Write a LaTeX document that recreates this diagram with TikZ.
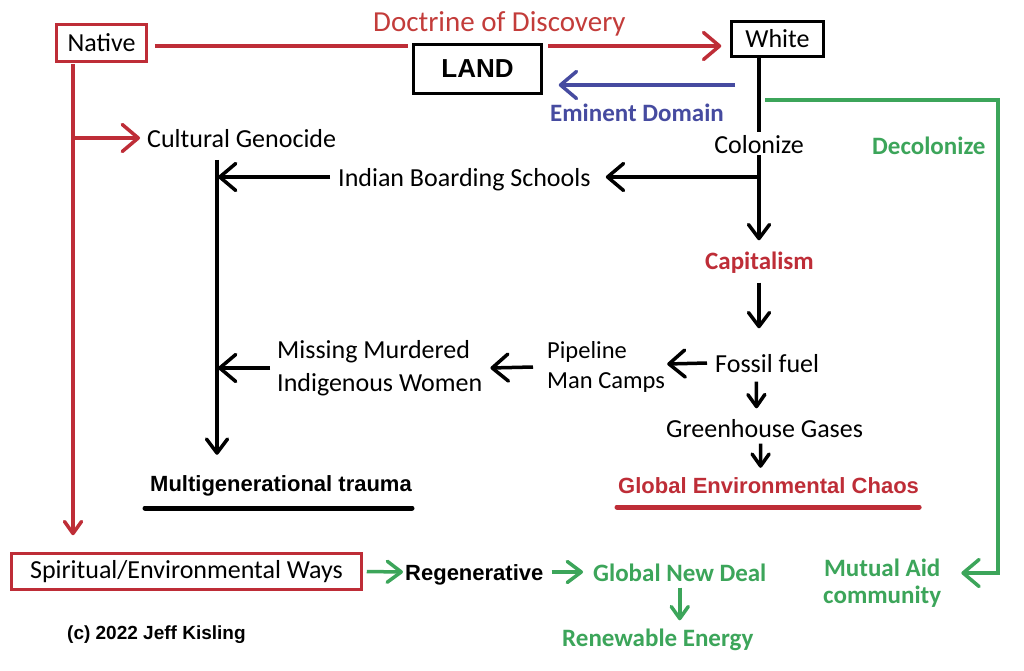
\documentclass[tikz,border=0pt]{standalone}
\usepackage{fontspec}
\setmainfont{Carlito}
\newfontfamily\arialf{Liberation Sans}
\usetikzlibrary{arrows.meta,backgrounds,calc}
\definecolor{myred}{RGB}{190,45,55}
\definecolor{txtred}{RGB}{195,60,58}
\definecolor{mygreen}{RGB}{60,165,90}
\definecolor{myblue}{RGB}{70,75,160}
\tikzset{
  t/.style={inner sep=0pt, font=\fontsize{26}{31}\selectfont, text height=21pt, text depth=2pt},
  tb/.style={inner sep=0pt, font=\bfseries\fontsize{25}{30}\selectfont, text height=20pt, text depth=2pt},
  ta/.style={inner sep=0pt, font=\arialf\bfseries\fontsize{22}{26}\selectfont, text height=18pt, text depth=2pt},
  tm/.style={inner sep=0pt, align=left, font=\fontsize{26}{33}\selectfont},
  boxn/.style={draw, line width=3.5pt, inner sep=0pt, font=\fontsize{26}{31}\selectfont},
  conn/.style={line width=3.5pt},
  arrL/.style={-{Straight Barb[length=16pt,width=27pt,round]}},
  arrM/.style={-{Straight Barb[length=14pt,width=21pt,round]}},
  arrS/.style={-{Straight Barb[length=12pt,width=17pt,round]}},
}
\begin{document}
\begin{tikzpicture}[x=1pt,y=-1pt]
\useasboundingbox (0,0) rectangle (1024,671);
% boxes
\node[boxn,draw=myred,minimum width=90pt,minimum height=37pt] (native) at (101.5,43) {Native};
\node[boxn,draw=black,minimum width=92pt,minimum height=35pt] (white) at (777.5,39) {White};
\node[boxn,draw=black,fill=white,minimum width=128pt,minimum height=49pt,
      font=\arialf\bfseries\fontsize{26}{31}\selectfont,
      preaction={draw=white,line width=12pt}] (land) at (477.5,69) {LAND};
\node[boxn,draw=myred,minimum width=350pt,minimum height=36pt] (spirit) at (186.5,571.5) {Spiritual/Environmental Ways};
% texts
\node[t,anchor=west,text=txtred,font=\fontsize{29}{34}\selectfont] (doctrine) at (373,22) {Doctrine of Discovery};
\node[tb,anchor=west,text=myblue] (eminent) at (550,113) {Eminent Domain};
\node[t,fill=white] (colonize) at (759,144) {Colonize};
\node[tb,anchor=west,text=mygreen] (decol) at (872,146) {Decolonize};
\node[t,anchor=west] (cg) at (147,138) {Cultural Genocide};
\node[t,anchor=west] (ibs) at (338,177) {Indian Boarding Schools};
\node[tb,anchor=west,text=myred] (capitalism) at (705,260) {Capitalism};
\node[tm,anchor=west] (mmiw) at (277,368) {Missing Murdered\\Indigenous Women};
\node[tm,anchor=west,font=\fontsize{24.5}{30}\selectfont] (pipe) at (547,367) {Pipeline\\Man Camps};
\node[t,anchor=west] (fossil) at (715,363) {Fossil fuel};
\node[t,anchor=west] (gh) at (666,428) {Greenhouse Gases};
\node[ta,anchor=west,text=myred] (gec) at (618,485) {Global Environmental Chaos};
\node[ta,anchor=west] (mgt) at (150,483) {Multigenerational trauma};
\node[ta,anchor=west] (regen) at (405,572) {Regenerative};
\node[tb,anchor=west,text=mygreen] (gnd) at (593,572) {Global New Deal};
\node[tb,anchor=west,text=mygreen] (ren) at (562,637) {Renewable Energy};
\node[inner sep=0pt,anchor=west,text=mygreen,align=center,font=\bfseries\fontsize{25}{27}\selectfont] (mutual) at (823,583) {Mutual Aid\\community};
\node[inner sep=0pt,anchor=west,font=\arialf\bfseries\fontsize{19}{23}\selectfont] (copy) at (67,635) {(c) 2022 Jeff Kisling};
% helper coordinates
\coordinate (nv) at ([xshift=-28.5pt]native.south);
\coordinate (vtop) at (217,160);
\coordinate (ed) at (735,85);
\coordinate (dc) at (765,100);
\begin{scope}[on background layer]
\fill[white] (0,0) rectangle (1024,671);
% red
\draw[conn,myred,arrL,shorten <=6.5pt,shorten >=8.5pt] ([yshift=-3pt]native.east) -- ([yshift=-7pt]white.west);
\draw[conn,myred,arrS,shorten <=1pt,shorten >=16.5pt] (nv) -- (nv |- spirit.north);
\draw[conn,myred,arrL] (nv |- cg.west) -- ([xshift=-7pt]cg.west);
% blue
\draw[conn,myblue,arrL,shorten >=15.5pt] (ed) -- (ed -| land.east);
% black
\draw[conn,black,arrM,shorten >=8.5pt] (white.south -| colonize) -- (capitalism.north -| colonize);
\draw[conn,black,arrL] (colonize |- ibs.east) -- ([xshift=15pt]ibs.east);
\draw[conn,black,arrL,shorten >=1pt] ([xshift=-8pt]ibs.west) -- (vtop |- ibs.west);
\draw[conn,black,arrM,shorten >=18pt] (vtop) -- (vtop |- mgt.north);
\draw[conn,black,arrL,shorten >=1pt] ([xshift=-7pt]mmiw.west) -- (vtop |- mmiw.west);
\draw[conn,black,arrL] ([xshift=-14pt]pipe.west) -- ([xshift=8pt]mmiw.east);
\draw[conn,black,arrL] ([xshift=-8pt]fossil.west) -- ([xshift=2pt,yshift=3pt]pipe.east);
\draw[conn,black,arrM,shorten <=11.5pt,shorten >=23pt] (capitalism.south -| colonize) -- (fossil.north -| colonize);
\draw[conn,black,arrS,shorten <=7pt,shorten >=8pt] ([xshift=-11pt]fossil.south) -- ([xshift=-8pt]gh.north);
\draw[conn,black,arrS,shorten <=4pt,shorten >=7pt] ([xshift=-4pt]gh.south) -- ([xshift=-8pt]gec.north);
% underlines
\draw[myred,line width=5pt,line cap=round] ([xshift=-1pt,yshift=-22pt]gec.west) -- ([yshift=-22pt]gec.east);
\draw[black,line width=5pt,line cap=round] ([xshift=-5pt,yshift=-25pt]mgt.west) -- ([yshift=-25pt]mgt.east);
% green
\draw[conn,mygreen,arrM,shorten <=3.5pt,shorten >=2pt] (spirit.east) -- (regen.west);
\draw[conn,mygreen,arrM,shorten <=8pt,shorten >=10pt] (regen.east) -- (gnd.west);
\draw[conn,mygreen,arrS,shorten <=4.5pt,shorten >=5.5pt] (gnd.south) -- (gnd.south |- ren.north);
\draw[conn,mygreen,arrL] (dc) -- ++(233,0) |- ([xshift=20pt,yshift=10pt]mutual.east);
\end{scope}
\end{tikzpicture}
\end{document}
